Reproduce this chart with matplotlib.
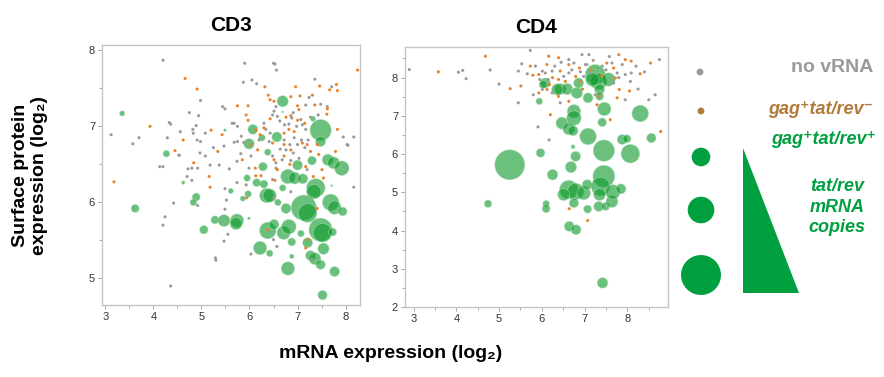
import matplotlib
matplotlib.use("Agg")
import matplotlib.pyplot as plt
from matplotlib.ticker import MultipleLocator
import numpy as np

plt.rcParams['font.family'] = ['Liberation Sans', 'DejaVu Sans']

# ---------------- data (log2 mRNA, log2 surface protein) ----------------
# CD3 panel
cd3_gray_x = [4.20, 4.98, 4.75, 4.94, 5.44, 5.49, 4.33, 4.36, 4.89, 4.82, 4.56, 4.83, 5.08, 5.64,
              3.12, 3.70, 3.57, 4.29, 4.91, 4.98, 4.53, 4.97, 5.08, 5.25, 5.47, 5.18, 5.37, 5.58,
              4.20, 4.72, 4.80, 4.70, 4.80, 5.49, 5.52, 4.42, 4.92, 5.49, 4.24, 4.20, 5.55, 5.47,
              5.29, 5.30, 4.36, 5.90, 6.53, 6.56, 5.87, 6.05, 6.15, 7.36, 7.71, 7.24, 7.17, 7.48,
              7.62, 6.55, 6.51, 6.48, 6.58, 6.91, 6.88, 7.07, 7.27, 7.43, 6.63, 6.73, 6.82, 6.98,
              7.10, 7.17, 5.68, 5.75, 5.83, 6.30, 6.34, 6.43, 5.75, 5.68, 5.88, 6.20, 6.41, 6.72,
              6.93, 7.08, 7.22, 6.84, 7.00, 6.64, 6.76, 7.15, 6.91, 7.03, 6.68, 6.86, 6.55, 8.03,
              7.95, 5.82, 6.03, 6.48, 5.74, 5.99, 6.55, 7.20, 8.17, 6.03, 6.57, 6.48, 5.74, 6.86,
              6.51, 5.93, 6.50, 7.29, 6.50, 8.17, 8.05, 4.13, 4.54, 4.92]
cd3_gray_y = [7.87, 7.34, 7.18, 7.14, 7.26, 7.23, 7.05, 7.03, 7.01, 6.96, 6.93, 6.91, 6.91, 7.04,
              6.89, 6.85, 6.77, 6.85, 6.82, 6.80, 6.62, 6.65, 6.61, 6.72, 6.74, 6.49, 6.49, 6.44,
              6.47, 6.44, 6.45, 6.34, 6.29, 6.18, 6.03, 5.99, 5.96, 5.91, 5.81, 5.70, 5.58, 5.49,
              5.27, 5.24, 4.90, 7.83, 7.82, 7.74, 7.58, 7.61, 7.56, 7.62, 7.52, 7.38, 7.28, 7.29,
              7.26, 7.26, 7.20, 7.15, 7.13, 7.18, 7.11, 7.09, 7.12, 7.15, 7.07, 7.02, 7.03, 7.00,
              7.02, 6.96, 7.04, 7.00, 6.87, 7.04, 6.96, 6.91, 6.80, 6.79, 6.79, 6.82, 6.80, 6.82,
              6.85, 6.82, 6.82, 6.76, 6.76, 6.70, 6.69, 6.72, 6.65, 6.58, 6.56, 6.55, 6.52, 6.76,
              6.86, 6.64, 6.61, 6.61, 6.54, 6.45, 6.45, 6.43, 6.20, 5.32, 5.42, 6.30, 6.26, 6.14,
              6.06, 6.23, 5.51, 5.25, 7.83, 6.86, 6.75, 6.47, 6.62, 6.45]

cd3_orange_x = [4.66, 4.91, 3.93, 5.20, 5.43, 4.62, 4.45, 5.34, 4.84, 3.18, 5.16, 5.18, 8.25, 6.32,
                5.75, 5.97, 6.39, 6.43, 6.96, 7.05, 7.31, 7.46, 7.67, 7.81, 7.83, 6.86, 7.36, 7.62,
                7.61, 7.00, 7.03, 6.51, 5.93, 5.97, 6.43, 6.76, 6.86, 7.00, 7.15, 6.82, 6.93, 6.72,
                6.30, 6.13, 6.22, 7.83, 6.48, 6.72, 7.10, 7.20, 7.27, 6.86, 6.03, 6.17, 6.72, 7.44,
                7.79, 5.85, 6.51, 6.84, 6.58, 6.12, 7.17, 7.51, 7.41, 6.13, 6.24, 6.53, 7.54, 7.33,
                7.41, 6.38, 7.22, 7.17, 5.94]
cd3_orange_y = [7.63, 7.49, 7.00, 6.95, 6.89, 6.82, 6.68, 6.67, 6.52, 6.27, 6.34, 6.20, 7.74, 7.52,
                7.27, 7.27, 7.41, 7.35, 7.52, 7.40, 7.41, 7.53, 7.48, 7.55, 7.47, 7.39, 7.28, 7.23,
                7.16, 7.27, 7.22, 7.33, 7.15, 7.08, 7.10, 7.12, 7.14, 7.08, 7.04, 6.96, 6.93, 6.91,
                6.98, 6.95, 6.89, 6.96, 6.78, 6.76, 6.78, 6.76, 6.67, 6.69, 6.76, 6.69, 6.61, 6.63,
                6.67, 6.56, 6.56, 6.50, 6.43, 6.45, 6.47, 6.43, 6.76, 6.35, 6.35, 6.29, 6.32, 6.34,
                5.92, 5.64, 5.51, 5.40, 6.06]

cd3_green_x = [3.35, 4.27, 3.62, 4.62, 4.89, 4.83, 5.05, 5.28, 5.47, 5.74, 5.72, 5.61, 5.49, 5.99,
               5.86, 5.97, 5.95, 5.99, 6.07, 6.15, 6.30, 6.28, 6.38, 6.26, 6.36, 6.42, 6.57, 6.69,
               6.69, 6.69, 6.80, 6.94, 7.00, 7.11, 6.76, 7.13, 7.21, 7.38, 7.34, 7.30, 7.48, 7.48,
               7.32, 7.63, 7.75, 7.92, 7.69, 7.77, 7.94, 7.71, 6.38, 6.51, 6.71, 6.82, 6.88, 7.07,
               7.21, 7.27, 7.36, 7.48, 7.52, 7.54, 7.73, 7.48, 7.77, 7.52, 6.80, 6.22, 6.42, 6.88,
               6.59]
cd3_green_y = [7.17, 6.64, 5.92, 6.26, 6.07, 6.00, 5.64, 5.77, 5.76, 5.76, 5.72, 6.15, 6.95, 5.79,
               6.05, 6.11, 6.32, 6.77, 6.96, 6.26, 6.24, 6.47, 6.66, 6.85, 6.09, 6.09, 6.86, 7.33,
               7.19, 6.19, 6.34, 6.32, 6.49, 6.31, 5.92, 5.93, 5.86, 6.19, 6.14, 6.55, 6.95, 6.80,
               7.10, 6.56, 6.52, 6.45, 6.00, 5.93, 5.88, 6.22, 5.63, 5.71, 5.60, 5.68, 5.48, 5.59,
               5.47, 5.30, 5.26, 5.64, 5.60, 5.39, 5.61, 5.18, 5.09, 4.78, 5.13, 5.40, 5.33, 5.29,
               6.00]
# tat/rev mRNA copies (relative), sets bubble area
cd3_green_copies = [7, 11, 16, 3, 16, 11, 18, 16, 36, 45, 36, 7, 2, 2,
                    7, 11, 11, 28, 25, 16, 16, 19, 11, 11, 53, 45, 25, 32,
                    1, 11, 53, 36, 25, 25, 25, 160, 87, 87, 53, 19, 114, 25,
                    7, 32, 36, 53, 69, 45, 19, 1, 69, 25, 45, 53, 16, 11,
                    25, 25, 36, 136, 87, 32, 16, 22, 25, 22, 45, 45, 11, 5,
                    11]

# CD4 panel
cd4_gray_x = [2.90, 4.05, 4.15, 4.23, 4.79, 5.00, 5.45, 5.45, 5.53, 5.73, 5.66, 5.91, 6.17, 8.65,
              8.50, 8.75, 8.07, 8.09, 7.88, 7.95, 7.95, 7.10, 6.94, 6.63, 6.75, 7.02, 6.24, 6.63,
              6.01, 6.08, 6.24, 6.01, 6.51, 6.98, 7.14, 7.41, 7.64, 7.76, 7.68, 7.25, 6.43, 5.85,
              6.30, 6.45, 6.90, 7.20, 7.50, 7.80, 8.20, 8.40, 6.15, 5.95, 6.70, 7.58, 8.25, 5.80]
cd4_gray_y = [8.21, 8.14, 8.19, 7.97, 8.20, 7.83, 7.34, 8.17, 8.36, 8.71, 8.10, 6.71, 6.37, 7.55,
              7.42, 8.47, 7.90, 8.12, 8.34, 8.08, 7.42, 8.60, 8.60, 8.47, 8.38, 8.34, 8.17, 8.12,
              8.17, 8.12, 7.60, 7.69, 8.03, 8.03, 8.12, 8.30, 8.38, 8.12, 7.86, 7.55, 7.34, 8.30,
              8.30, 8.40, 8.15, 8.45, 8.20, 8.00, 8.30, 8.15, 7.95, 7.95, 8.20, 8.55, 7.70, 7.55]

cd4_orange_x = [3.58, 4.68, 5.26, 5.51, 5.73, 5.79, 8.78, 7.07, 6.64, 8.54, 8.30, 8.09, 7.80, 7.95,
                7.81, 7.76, 7.60, 6.20, 6.63, 7.29, 6.16, 6.39, 6.63, 6.88, 6.12, 6.43, 6.79, 5.93,
                6.18, 6.12, 5.93, 6.55, 6.90, 7.52, 7.68, 7.72, 7.33, 6.39, 6.39, 7.15, 7.40, 6.25,
                6.95, 8.05]
cd4_orange_y = [8.15, 8.56, 7.71, 7.78, 8.30, 8.06, 6.59, 4.26, 4.57, 8.38, 8.10, 8.43, 8.60, 8.47,
                7.69, 7.47, 6.90, 7.03, 7.38, 7.29, 8.56, 8.52, 8.34, 8.25, 8.34, 8.17, 8.03, 8.08,
                7.82, 7.69, 7.60, 7.90, 7.90, 8.38, 8.25, 7.99, 7.51, 7.51, 7.95, 8.20, 8.05, 8.00,
                7.70, 7.65]

cd4_green_x = [5.25, 4.74, 5.97, 5.94, 6.25, 6.10, 6.10, 6.08, 6.47, 6.75, 6.75, 6.63, 6.73, 6.79,
               6.68, 6.73, 6.43, 6.59, 6.82, 7.08, 6.86, 7.08, 7.45, 7.46, 7.41, 7.25, 7.33, 7.18,
               7.56, 7.35, 6.63, 6.79, 6.51, 6.75, 6.98, 7.06, 7.45, 7.37, 7.35, 7.33, 7.49, 7.64,
               7.66, 7.85, 7.07, 6.64, 6.80, 7.42, 7.88, 7.99, 8.07, 8.30, 8.56, 6.36, 7.32, 7.35,
               6.03, 7.06]
cd4_green_y = [5.72, 4.70, 6.03, 7.38, 5.46, 4.70, 4.57, 7.86, 6.81, 7.12, 6.94, 6.66, 6.61, 5.94,
               5.66, 6.19, 7.70, 7.70, 7.60, 7.47, 7.86, 6.46, 6.09, 7.18, 6.83, 8.08, 7.90, 7.95,
               7.95, 7.69, 5.07, 5.02, 4.94, 4.72, 4.98, 5.20, 5.42, 5.15, 4.94, 4.63, 4.63, 4.76,
               5.01, 5.09, 4.56, 4.11, 4.02, 2.63, 6.38, 6.40, 6.01, 7.06, 6.42, 7.69, 8.25, 7.51,
               7.82, 8.34]
cd4_green_copies = [225, 14, 19, 11, 28, 11, 16, 25, 36, 45, 53, 36, 25, 25,
                    32, 4, 32, 32, 32, 25, 25, 69, 114, 45, 19, 100, 69, 45,
                    45, 25, 87, 69, 36, 22, 45, 25, 121, 87, 36, 25, 16, 36,
                    53, 25, 16, 25, 25, 28, 25, 16, 87, 69, 22, 32, 2, 16,
                    16, 2]

GRAY = '#9a9a9a'
ORANGE = '#e8832a'
GREEN = '#0f9a2c'


def bubble_size(copies):
    return 2.07 * np.asarray(copies)


fig = plt.figure(figsize=(8.84, 3.77), dpi=100)
W, H = 884.0, 377.0


def fx(x):
    return x / W


def fy(y):
    return 1 - y / H


ax3 = fig.add_axes([fx(102), fy(305), (360 - 102) / W, 260 / H])
ax4 = fig.add_axes([fx(405), fy(307), (668 - 405) / W, 260 / H])

panels = [
    (ax3, cd3_gray_x, cd3_gray_y, cd3_orange_x, cd3_orange_y,
     cd3_green_x, cd3_green_y, cd3_green_copies, (2.93, 8.3), (4.65, 8.07), 'CD3'),
    (ax4, cd4_gray_x, cd4_gray_y, cd4_orange_x, cd4_orange_y,
     cd4_green_x, cd4_green_y, cd4_green_copies, (2.8, 8.95), (2.0, 8.8), 'CD4'),
]

for ax, gx, gy, ox, oy, grx, gry, grc, xl, yl, title in panels:
    ax.scatter(grx, gry, s=bubble_size(grc), color=GREEN, alpha=0.62,
               edgecolors='#b8e3c0', linewidths=0.5, zorder=2)
    ax.scatter(gx, gy, s=5, color=GRAY, edgecolors='none', zorder=3)
    ax.scatter(ox, oy, s=5, color=ORANGE, edgecolors='none', zorder=3)
    ax.set_xlim(*xl)
    ax.set_ylim(*yl)
    ax.xaxis.set_major_locator(MultipleLocator(1))
    ax.yaxis.set_major_locator(MultipleLocator(1))
    ax.xaxis.set_minor_locator(MultipleLocator(0.5))
    ax.yaxis.set_minor_locator(MultipleLocator(0.5))
    ax.tick_params(which='both', direction='out', colors='#999999', labelcolor='#333333',
                   labelsize=8, width=0.6)
    ax.tick_params(which='major', length=3, pad=2)
    ax.tick_params(which='minor', length=2)
    for sp in ax.spines.values():
        sp.set_color('#c4c4c4')
        sp.set_linewidth(1.0)
    ax.set_title(title, fontsize=15, fontweight='bold', pad=10)

fig.text(fx(30), fy(175), 'Surface protein\nexpression (log\u2082)', rotation=90,
         ha='center', va='center', fontsize=14, fontweight='bold', linespacing=1.2)
fig.text(fx(391), fy(353), 'mRNA expression (log\u2082)', ha='center', va='center',
         fontsize=14, fontweight='bold')

# ---------------- legend panel (pixel coordinates) ----------------
lg = fig.add_axes([0, 0, 1, 1], facecolor='none')
lg.set_xlim(0, W)
lg.set_ylim(H, 0)
lg.axis('off')
lg.scatter([700, 701], [72, 111], s=24, color=[GRAY, '#b07a3a'], edgecolors='none')
lg.scatter([701, 701, 701], [157, 210, 275], s=bubble_size([87, 177, 400]),
           color='#00a040', edgecolors='none')
lg.fill([743, 743, 799], [148, 293, 293], color='#00a040', lw=0)
lg.text(873, 67, 'no vRNA', ha='right', va='center', fontsize=14, fontweight='bold',
        color='#9a9a9a')
lg.text(873, 109, 'gag\u207atat/rev\u207b', ha='right', va='center', fontsize=13,
        fontweight='bold', style='italic', color='#b07a3a')
lg.text(876, 140, 'gag\u207atat/rev\u207a', ha='right', va='center', fontsize=13,
        fontweight='bold', style='italic', color='#00a040')
lg.text(837, 207, 'tat/rev\nmRNA\ncopies', ha='center', va='center', fontsize=13,
        fontweight='bold', style='italic', color='#00a040', linespacing=1.3)

fig.savefig('out.png', dpi=100)
